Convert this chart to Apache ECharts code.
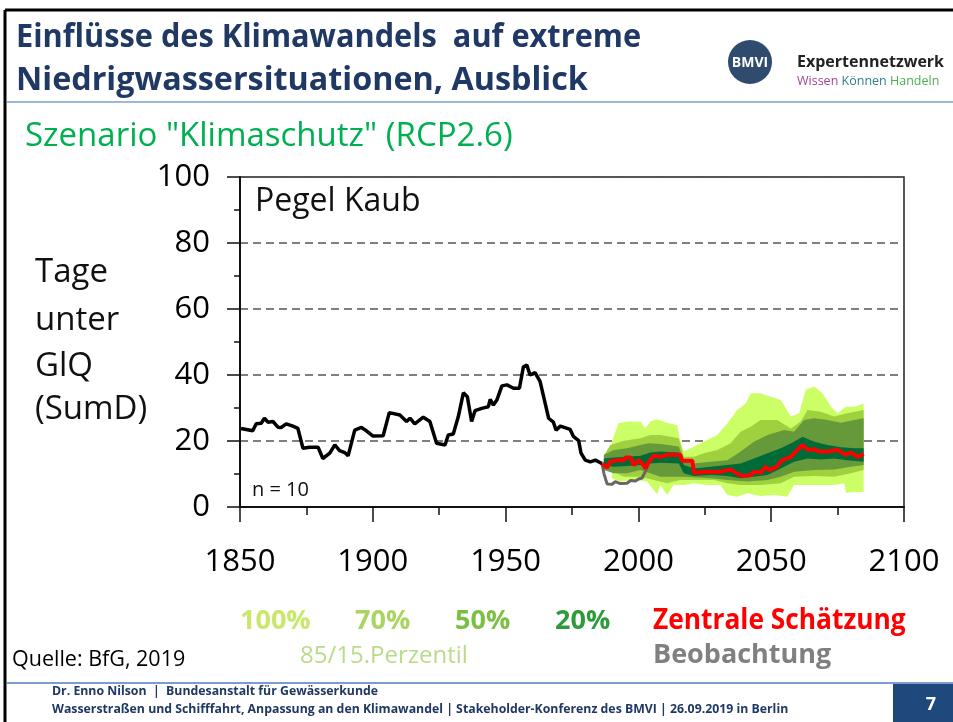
<!DOCTYPE html>
<html><head><meta charset="utf-8">
<script src="https://cdn.jsdelivr.net/npm/echarts@6/dist/echarts.min.js"></script>
<style>html,body{margin:0;padding:0;background:#fff}#c{width:953px;height:722px}</style>
</head><body><div id="c"></div>
<script>
// ---- Data ----
const xTicks = [1850, 1900, 1950, 2000, 2050, 2100];
const yTicks = [0, 20, 40, 60, 80, 100];

// Observed (smoothed) series, black
const obsYears = [1850.4,1854.8,1856.1,1858,1859.2,1860.5,1862.4,1864.3,1865.5,1867.4,1869.9,1871.8,1873.7,1876.2,1879.4,1881.2,1883.8,1885.7,1887.5,1889.4,1890.7,1893.2,1895.7,1897.6,1900.1,1903.9,1906.2,1910.2,1912.7,1914,1915.8,1919,1921.5,1924,1927.2,1928.4,1930.3,1932.2,1934.1,1935.6,1937.2,1938.5,1941,1943.5,1944.2,1945.4,1946.7,1948.6,1950.5,1953,1955.2,1956.7,1958,1959.2,1961.1,1963,1964.9,1966.2,1968,1969,1970.6,1974.3,1975.6,1977.5,1978.4,1980,1981.9,1983.8,1985.7,1986.3];
const obsValues = [23.8,23.1,25.2,25.4,26.9,25.7,25.9,24.2,24.1,25.2,24.5,23.8,17.8,18.1,18.1,14.7,16.3,18.8,17.1,16.5,15.5,23.3,24.1,23.1,21.5,21.6,28.6,27.9,25.9,26.9,25.2,27.2,25.9,19.3,18.8,21.8,22.1,27.4,34.6,33.4,25.9,29.2,29.9,30.4,32.6,30.9,32.4,36.7,37,36,36,42.5,43,40,40.7,38,31.4,26.9,25.7,23.3,24.5,23.5,21.3,20.1,16.3,14.2,13.7,14.2,13.4,13.2];

// Beobachtung (grey)
const beobYears = [1986.3,1987,1988.2,1990.1,1991.3,1993.2,1995.7,1997,1998.9,2000.1,2001.4,2002.6,2003.6];
const beobValues = [13.2,10.2,7,6.9,7.7,7.1,7.2,8,7.9,8.5,8.8,10.7,12.8];

// Zentrale Schätzung (red)
const centralYears = [1986.3,1988.2,1989.4,1992,1994.5,1995.1,1997,1998.3,2000.2,2001.4,2002.7,2003.9,2005.8,2008.3,2010.8,2015.8,2016.5,2020.3,2020.9,2025.9,2030.9,2034.7,2036.6,2039.1,2042.3,2043.5,2046,2047.9,2049.2,2051.7,2054.2,2057.4,2059.9,2061.8,2063.7,2066.2,2068.1,2071.3,2075,2078.1,2080,2082.5,2084.8];
const centralValues = [13.2,11.9,13.7,14.2,14.2,15,15,12.7,14.2,13.2,11.7,13.7,15.5,15.2,15.8,15.8,14,14,10.4,10.7,10.7,11.4,10.4,9.4,9.7,10.7,10.4,12.2,11.2,12,14.2,15.2,17.3,18.8,17.3,17.5,16.8,16.8,17.3,15.8,16.5,15.2,16.1];

// 100% band
const b100TopX = [1990,1992.5,1995.7,2000.8,2002.6,2004.5,2007,2010.8,2014.6,2015.8,2017.1,2020.9,2024.6,2029.7,2033.5,2037.2,2040.4,2042.3,2046,2049.8,2053.6,2057.4,2060.5,2063,2066.2,2069.3,2072.5,2075,2078.1,2081.3,2084.8];
const b100Top  = [19.8,25.4,25.9,25.9,23.8,25.9,26.6,25.5,24.8,19.8,16.8,18.3,19.8,21.8,25.4,29.4,31.4,34.5,34.5,33.4,32.4,27.4,28.4,35.5,36.5,34.5,30.4,28.4,30.4,30.4,31.4];
const b100BotX = [1990,1993.2,1999.5,2003.3,2007,2008.3,2010.8,2013.3,2017.1,2020.9,2025.9,2030.9,2033.5,2037.2,2041,2046,2051,2056,2058.6,2063.7,2068.7,2073.7,2077.5,2078.1,2084.8];
const b100Bot  = [8.7,7.7,8.2,7.7,3.9,6.7,3.6,6.7,6.7,7.2,6.7,6.7,3.6,3.1,4.2,3.3,3.6,3.1,6.7,6.7,6.7,6.7,7.2,4.3,4.6];

// 70% band
const b70TopX = [1987,1989.4,1994.5,2000.8,2004.5,2008.3,2015.2,2017.1,2020.9,2024.6,2029.7,2034.7,2038.5,2042.3,2046,2052.3,2057.4,2061.1,2063.7,2068.7,2073.7,2078.7,2084.8];
const b70Top  = [15.5,18.8,20.1,20.8,21.8,21.8,20.8,15.2,15.2,16.3,17.3,19.3,22.8,24.3,26.4,26.4,23.8,25.9,29.4,28.9,27.4,28.4,29.4];
const b70BotX = [1987,1989.4,1994.5,2000.8,2005.8,2010.8,2015.8,2020.9,2028.5,2033.5,2038.5,2046,2053.6,2058.6,2066.2,2073.7,2080,2084.8];
const b70Bot  = [11.5,11.2,9.2,9.2,8.2,7.2,8.2,8.2,8.2,7.2,6.7,6.7,7.2,9.2,9.4,9.2,10.2,11.2];

// 50% band
const b50TopX = [1987,1990.7,1995.7,2000.8,2003.9,2008.3,2015.2,2017.1,2020.9,2027.2,2033.5,2038.5,2043.5,2048.6,2054.9,2058.6,2062.4,2066.2,2071.3,2076.3,2081.3,2084.8];
const b50Top  = [15.8,17.3,17.8,18.8,19.3,19.1,18.3,14.2,13.2,13.7,14.2,16.8,19.8,21.8,23.3,22.8,26.4,26.9,26.4,25.5,26.4,26.9];
const b50BotX = [1987,1990.7,1995.7,2000.8,2004.5,2008.3,2013.3,2017.1,2020.9,2027.2,2033.5,2041,2048.6,2053.6,2058.6,2066.2,2073.7,2080,2084.8];
const b50Bot  = [11.2,10.2,10.2,11.2,10.2,9.2,9.2,9.2,9,8.7,8.2,7.7,8.2,9.2,10.7,11.2,11.4,12.2,12.7];

// 20% band
const b20TopX = [1987,1990.7,1995.7,2000.8,2004.5,2008.3,2015.2,2017.1,2020.9,2027.2,2033.5,2038.5,2043.5,2048.6,2053.6,2058.6,2061.8,2066.2,2071.3,2076.3,2081.3,2084.8];
const b20Top  = [14.7,15,15.2,15.5,16.5,16.8,16.5,12.7,11.7,12.2,12.7,13.2,14.7,16.3,17.8,19.8,21.3,19.8,18.8,18.1,17.8,17.8];
const b20BotX = [1987,1990.7,1995.7,2000.8,2004.5,2008.3,2015.2,2017.1,2020.9,2027.2,2033.5,2038.5,2043.5,2048.6,2053.6,2058.6,2063.7,2068.7,2073.7,2078.7,2084.8];
const b20Bot  = [12.7,12.2,12.4,12.7,13.2,13.4,13.2,10.2,9.4,9.7,9.4,8.7,9.2,9.7,11.7,13.7,14.7,14.4,14.7,14.2,13.7];

const legendLabels = ['100%', '70%', '50%', '20%', 'Zentrale Schätzung'];
const yTitleLines = ['Tage', 'unter', 'GlQ', '(SumD)'];

// ---- Styling ----
const FF = "'Open Sans', 'Noto Sans', sans-serif";
const bandColors = ['#ccff66', '#9fd13e', '#66993a', '#006b36'];

function pairs(xs, ys) { return xs.map((x, i) => [x, ys[i]]); }

function bandSeries(name, tx, ty, bx, by, color, z) {
  return {
    name: name, type: 'custom', z: z, silent: true,
    data: [[tx[0], ty[0]]],
    encode: { x: 0, y: 1 },
    renderItem: function (params, api) {
      const top = tx.map((x, i) => api.coord([x, ty[i]]));
      const bot = bx.map((x, i) => api.coord([x, by[i]])).reverse();
      return { type: 'polygon', shape: { points: top.concat(bot) }, style: { fill: color } };
    }
  };
}

function txt(text, x, y, size, color, weight, sx, align) {
  return {
    type: 'text', x: x, y: y, scaleX: sx || 1, z: 100,
    style: {
      text: text, fill: color, fontSize: size, fontWeight: weight || 'normal', fontFamily: FF,
      align: align || 'left', verticalAlign: 'middle', textAlign: align || 'left', textVerticalAlign: 'middle'
    }
  };
}

const graphics = [
  // frame lines
  { type: 'line', shape: { x1: 5, y1: 10, x2: 5, y2: 722 }, style: { stroke: '#000', lineWidth: 3 } },
  { type: 'line', shape: { x1: 5, y1: 10, x2: 953, y2: 10 }, style: { stroke: '#000', lineWidth: 3 } },
  { type: 'line', shape: { x1: 7, y1: 102, x2: 953, y2: 102 }, style: { stroke: '#7f9fcf', lineWidth: 1.5 } },
  { type: 'line', shape: { x1: 7, y1: 683, x2: 953, y2: 683 }, style: { stroke: '#4f7bbf', lineWidth: 1.5 } },
  // title
  txt('Einflüsse des Klimawandels  auf extreme', 16, 38, 32, '#1f3864', 'bold', 0.96),
  txt('Niedrigwassersituationen, Ausblick', 16, 81, 32, '#1f3864', 'bold', 1.01),
  // logo
  { type: 'circle', shape: { cx: 750, cy: 62, r: 22 }, style: { fill: '#2f4b6e' } },
  txt('BMVI', 750, 63, 14, '#fff', 'bold', 1, 'center'),
  txt('Expertennetzwerk', 797, 62, 16, '#222', 'bold', 1),
  { type: 'text', x: 797, y: 81, style: { text: '{a|Wissen} {b|Können} {c|Handeln}', fontSize: 12.5, fontFamily: FF, verticalAlign: 'middle', textVerticalAlign: 'middle',
      rich: { a: { fill: '#a0449a', color: '#a0449a', fontSize: 12.5, fontFamily: FF }, b: { fill: '#2f7f8c', color: '#2f7f8c', fontSize: 12.5, fontFamily: FF }, c: { fill: '#4caf50', color: '#4caf50', fontSize: 12.5, fontFamily: FF } } } },
  // subtitle
  txt('Szenario "Klimaschutz" (RCP2.6)', 25, 137, 33, '#00b050', 'normal', 1),
  // in-plot texts
  txt('Pegel Kaub', 255, 202, 32, '#111', 'normal', 1),
  txt('n = 10', 252, 490, 20, '#111', 'normal', 1),
  // legend
  txt(legendLabels[0], 240, 621, 27, '#c8e86a', 'bold', 1),
  txt(legendLabels[1], 355, 621, 27, '#aad460', 'bold', 1),
  txt(legendLabels[2], 455, 621, 27, '#7cc043', 'bold', 1),
  txt(legendLabels[3], 555, 621, 27, '#2e9b3a', 'bold', 1),
  txt(legendLabels[4], 653, 621, 28, '#ff0000', 'bold', 0.94),
  txt('85/15.Perzentil', 300, 656, 24, '#b9dc8a', 'normal', 1),
  txt('Beobachtung', 653, 655, 27, '#808080', 'bold', 1),
  txt('Quelle: BfG, 2019', 12, 660, 21.5, '#000', 'normal', 1),
  // footer
  txt('Dr. Enno Nilson  |  Bundesanstalt für Gewässerkunde', 52, 691, 12.3, '#1f3864', 'bold', 1),
  txt('Wasserstraßen und Schifffahrt, Anpassung an den Klimawandel | Stakeholder-Konferenz des BMVI | 26.09.2019 in Berlin', 52, 709, 12.3, '#1f3864', 'bold', 1),
  { type: 'rect', shape: { x: 893, y: 684, width: 60, height: 38 }, style: { fill: '#1f497d' } },
  txt('7', 931, 705, 18, '#fff', 'bold', 1, 'center')
];
yTitleLines.forEach((t, i) => graphics.push(txt(t, 35, [273, 321, 367, 410][i], 33, '#111', 'normal', 1)));

const chart = echarts.init(document.getElementById('c'), null, { renderer: 'canvas' });
chart.setOption({
  animation: false,
  backgroundColor: '#fff',
  grid: { left: 240, right: 49, top: 177, bottom: 215, show: true, borderColor: '#222', borderWidth: 1.5, backgroundColor: 'transparent' },
  xAxis: {
    type: 'value', min: xTicks[0], max: xTicks[xTicks.length - 1], interval: 50,
    axisLine: { lineStyle: { color: '#111', width: 2 } },
    axisTick: { length: 15, lineStyle: { color: '#111', width: 1.5 } },
    minorTick: { show: true, splitNumber: 2, length: 8, lineStyle: { color: '#111', width: 1.5 } },
    splitLine: { show: false },
    axisLabel: { fontSize: 31, color: '#000', margin: 40, fontFamily: FF, formatter: v => String(v) }
  },
  yAxis: {
    type: 'value', min: yTicks[0], max: yTicks[yTicks.length - 1], interval: 20,
    axisLine: { show: true, lineStyle: { color: '#111', width: 2 } },
    axisTick: { show: true, length: 13, lineStyle: { color: '#111', width: 1.5 } },
    minorTick: { show: true, splitNumber: 2, length: 6, lineStyle: { color: '#111', width: 1.5 } },
    splitLine: { show: true, lineStyle: { color: '#555', width: 1.5, type: [8, 5] } },
    axisLabel: { fontSize: 31, color: '#000', margin: 30, fontFamily: FF }
  },
  series: [
    bandSeries('100%', b100TopX, b100Top, b100BotX, b100Bot, bandColors[0], 1),
    bandSeries('70%', b70TopX, b70Top, b70BotX, b70Bot, bandColors[1], 2),
    bandSeries('50%', b50TopX, b50Top, b50BotX, b50Bot, bandColors[2], 3),
    bandSeries('20%', b20TopX, b20Top, b20BotX, b20Bot, bandColors[3], 4),
    { name: 'Beobachtung', type: 'line', z: 5, showSymbol: false, data: pairs(beobYears, beobValues), lineStyle: { color: '#666', width: 3 } },
    { name: 'Zentrale Schätzung', type: 'line', z: 6, showSymbol: false, data: pairs(centralYears, centralValues), lineStyle: { color: '#ff0000', width: 4 } },
    { name: 'Pegel Kaub', type: 'line', z: 7, showSymbol: false, data: pairs(obsYears, obsValues), lineStyle: { color: '#000', width: 3.5 } }
  ],
  graphic: graphics
});
</script></body></html>
